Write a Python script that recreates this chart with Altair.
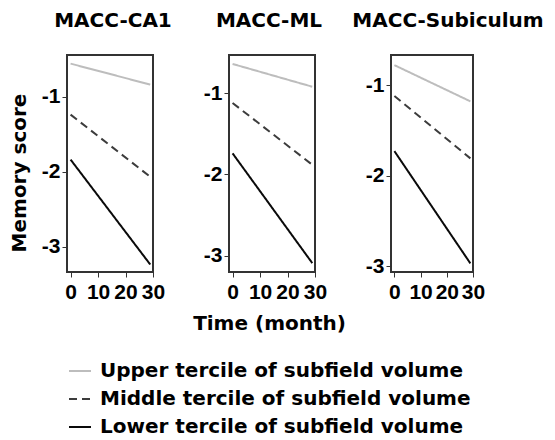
import altair as alt
import pandas as pd

# ---- data ----
panels = ["MACC-CA1", "MACC-ML", "MACC-Subiculum"]
terciles = [
    "Upper tercile of subfield volume",
    "Middle tercile of subfield volume",
    "Lower tercile of subfield volume",
]
time_points = [0, 29]  # months (start, end of fitted lines)

upper_start = [-0.56, -0.64, -0.78]
upper_end = [-0.84, -0.92, -1.18]
middle_start = [-1.24, -1.12, -1.12]
middle_end = [-2.07, -1.88, -1.81]
lower_start = [-1.84, -1.74, -1.73]
lower_end = [-3.24, -3.09, -2.97]

y_domains = [[-3.34, -0.445], [-3.20, -0.53], [-3.065, -0.668]]
x_domain = [-1.3, 30]
x_ticks = [0, 10, 20, 30]
y_ticks = [-1, -2, -3]

colors = ["#bdbdbd", "#3c3c3c", "#0a0a0a"]
dashes = [[1, 0], [8, 5], [1, 0]]

starts = [upper_start, middle_start, lower_start]
ends = [upper_end, middle_end, lower_end]

rows = []
for i, p in enumerate(panels):
    for k, t in enumerate(terciles):
        rows.append({"panel": p, "tercile": t, "time": time_points[0], "score": starts[k][i]})
        rows.append({"panel": p, "tercile": t, "time": time_points[1], "score": ends[k][i]})
data = pd.DataFrame(rows)

FONT = "DejaVu Sans"
TICK_FONT = "Liberation Sans"
FS = 20
PANEL_H = 217


def panel(i, width, y_title, x_title, title_dx):
    df = data[data["panel"] == panels[i]]
    yaxis_kwargs = dict(values=y_ticks, labelExpr="datum.value < 0 ? '-' + abs(datum.value) : datum.label")
    if y_title:
        yaxis = alt.Axis(title="Memory score", titlePadding=12, titleY=PANEL_H / 2 + 9, **yaxis_kwargs)
    else:
        yaxis = alt.Axis(title=None, **yaxis_kwargs)
    if x_title:
        xaxis = alt.Axis(values=x_ticks, title="Time (month)", titleX=width / 2 - 3, titlePadding=11)
    else:
        xaxis = alt.Axis(values=x_ticks, title=None)
    return (
        alt.Chart(df, title=alt.Title(panels[i], dx=title_dx))
        .mark_line(strokeWidth=2, strokeCap="butt")
        .encode(
            x=alt.X("time:Q", scale=alt.Scale(domain=x_domain, nice=False, zero=False), axis=xaxis),
            y=alt.Y("score:Q", scale=alt.Scale(domain=y_domains[i], nice=False, zero=False), axis=yaxis),
            color=alt.Color("tercile:N", scale=alt.Scale(domain=terciles, range=colors),
                            legend=alt.Legend(title=None)),
            strokeDash=alt.StrokeDash("tercile:N", scale=alt.Scale(domain=terciles, range=dashes),
                                      legend=alt.Legend(title=None)),
        )
        .properties(width=width, height=PANEL_H)
    )


chart = (
    alt.hconcat(
        panel(0, 86, True, False, 3),
        panel(1, 86, False, True, -3),
        panel(2, 82, False, False, 16),
        spacing=76,
        bounds="flush",
        padding={"left": 0, "top": 2, "right": 0, "bottom": 0},
    )
    .resolve_scale(x="independent", y="independent")
    .configure_view(stroke="#333333", strokeWidth=2)
    .configure_axis(
        grid=False,
        domain=False,
        labelFont=TICK_FONT,
        labelFontSize=21,
        labelFontWeight="bold",
        labelColor="#000000",
        labelPadding=2,
        labelOverlap=False,
        labelFlush=False,
        tickColor="#333333",
        tickSize=5,
        tickWidth=1,
        titleFont=FONT,
        titleFontSize=FS,
        titleFontWeight="bold",
        titleColor="#000000",
    )
    .configure_axisX(labelPadding=4)
    .configure_title(
        font=FONT,
        fontSize=FS,
        fontWeight="bold",
        color="#000000",
        anchor="middle",
        baseline="top",
        offset=24,
    )
    .configure_legend(
        orient="none",
        legendX=1,
        legendY=304,
        direction="vertical",
        padding=0,
        symbolType="stroke",
        symbolSize=484,
        symbolStrokeWidth=2,
        labelFont=FONT,
        labelFontSize=FS,
        labelFontWeight="bold",
        labelColor="#000000",
        labelOffset=8,
        labelLimit=0,
        rowPadding=6,
    )
)

chart.save("out.html", embed_options={"renderer": "svg", "actions": False})
